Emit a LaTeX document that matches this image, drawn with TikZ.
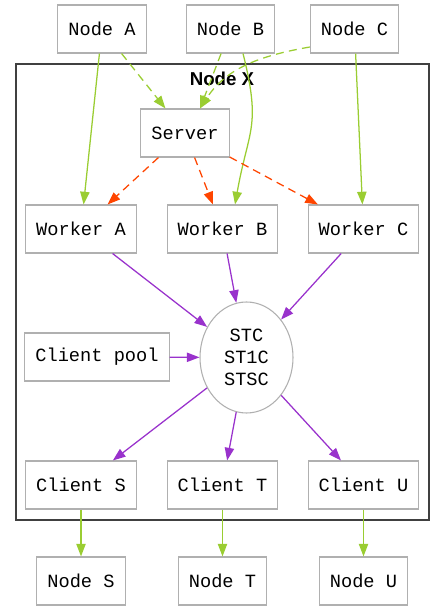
\documentclass[tikz,border=0pt]{standalone}
\usepackage{fontspec}
\usepackage{xcolor}
\usetikzlibrary{arrows.meta,shapes.geometric}
\newfontfamily\boxfont{Liberation Mono}
\newfontfamily\clusterfont{Liberation Sans}
\definecolor{linkgreen}{HTML}{9ACD32}
\definecolor{linkred}{HTML}{FF4500}
\definecolor{linkpurple}{HTML}{9932CC}
\definecolor{boxgray}{HTML}{B0B0B0}
\definecolor{framegray}{HTML}{404040}

\begin{document}
\begin{tikzpicture}[x=0.75pt,y=0.75pt,->,>={Triangle[length=9.5pt,width=7pt]},node distance=72pt,
    box node/.style={rectangle,draw=boxgray,line width=0.8pt,minimum height=36pt,inner xsep=7.9pt,font=\boxfont\fontsize{14}{16.5}\selectfont},
    hub node/.style={ellipse,draw=boxgray,line width=0.8pt,minimum width=69.75pt,minimum height=83.25pt,inner sep=0pt,align=center,font=\boxfont\fontsize{14}{16.5}\selectfont},
    green link/.style={color=linkgreen,line width=0.95pt},
    red link/.style={color=linkred,line width=0.95pt,dash pattern=on 6pt off 4pt},
    purple link/.style={color=linkpurple,line width=0.95pt}]
            \useasboundingbox (0,0) rectangle (445,611);

            % cluster frame
            \draw[-,draw=framegray,line width=1pt] (16,91) rectangle (429,547);
            \node[font=\clusterfont\bfseries\fontsize{14}{16}\selectfont] (0) at (222,532) {Node X};

            \node[box node] (1) at (102,582) {Node A};
            \node[box node] (2) at (230.5,582) {Node B};
            \node[box node] (3) at (354.5,582) {Node C};

            \node[box node] (4) at (185,478) {Server};

            \node[box node] (5) at (81,382) {Worker A};
            \node[box node] (6) at (222.5,382) {Worker B};
            \node[box node] (7) at (363.5,382) {Worker C};

            \node[box node] (8) at (97,254) {Client pool};
            \node[hub node] (9) at (246.5,253.5) {STC\\ST1C\\STSC};

            \node[box node] (10) at (81,126) {Client S};
            \node[box node] (11) at (222.5,126) {Client T};
            \node[box node] (12) at (363.5,126) {Client U};

            \node[box node] (13) [below of = 10] {Node S};
            \node[box node] (14) [below of = 11] {Node T};
            \node[box node] (15) [below of = 12] {Node U};

            \path[green link]
                (1) edge (5)
                ([xshift=9.4pt]2.south) edge[out=-76,in=80,looseness=1.3] ([xshift=9.4pt]6.north)
                (3) edge (7)
                (10) edge (13)
                (11) edge (14)
                (12) edge (15)
                ;
            \path[green link,dash pattern=on 6pt off 4pt]
                (1) edge (4)
                (2) edge ([xshift=11.25pt]4.north)
                ([yshift=-13.5pt]3.west) edge[out=190,in=57] ([xshift=11.25pt]4.north)
                ;
            \path[red link]
                (4) edge (5)
                (4) edge (6)
                (4) edge (7)
                ;
            \path[purple link]
                (5) edge (9)
                (6) edge (9)
                (7) edge (9)
                (8) edge (9)
                (9) edge (10)
                (9) edge (11)
                (9) edge (12)
                ;
        \end{tikzpicture}
\end{document}
